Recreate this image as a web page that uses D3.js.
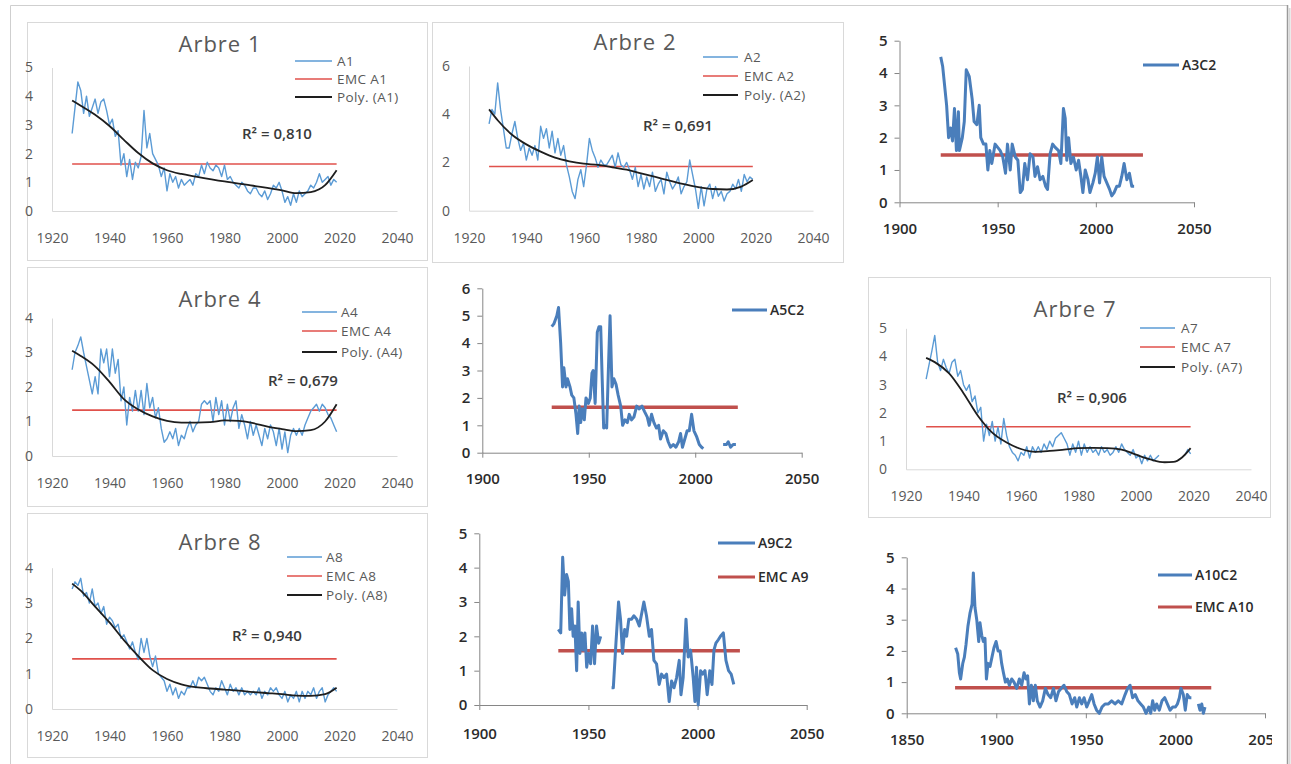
<!DOCTYPE html>
<html><head><meta charset="utf-8">
<script src="https://cdn.jsdelivr.net/npm/d3@7/dist/d3.min.js"></script>
<style>body{margin:0;background:#fff;} svg{display:block;}</style>
</head><body>
<svg id="c" width="1291" height="764"></svg>
<script>
// ---------------- DATA ----------------
const xTicksArbre = [1920, 1940, 1960, 1980, 2000, 2020, 2040];
const xTicksC2 = [1900, 1950, 2000, 2050];
const xTicksA10 = [1850, 1900, 1950, 2000, 2050];

// Arbre 1 (yearly from 1927)
const a1Start = 1927;
const a1Values = [2.7,3.6,4.5,4.2,3.4,4.0,3.3,3.6,3.9,3.4,3.8,3.9,3.5,3.0,3.2,2.6,2.8,1.6,2.0,1.2,1.8,1.1,1.7,1.5,1.9,3.5,2.2,2.7,2.0,1.8,1.6,1.2,1.5,0.7,1.3,1.0,1.2,0.8,1.1,0.9,1.0,1.1,0.9,1.3,1.2,1.6,1.3,1.7,1.5,1.4,1.6,1.5,1.2,1.6,1.1,1.2,1.0,0.9,0.8,1.0,0.9,0.7,0.6,0.8,0.8,0.6,0.5,0.7,0.4,0.6,0.9,0.8,1.0,0.7,0.3,0.5,0.2,0.6,0.3,0.7,0.5,0.6,0.7,0.9,0.8,1.0,1.3,1.0,1.1,1.2,0.9,1.1,1.0];
const a1TrendYears = [1927,1930,1935,1940,1945,1950,1955,1960,1965,1970,1980,1990,2000,2005,2010,2015,2019];
const a1Trend = [3.85,3.67,3.35,2.96,2.48,2.02,1.66,1.42,1.29,1.2,1.03,0.88,0.72,0.62,0.66,0.9,1.42];
const emcA1 = 1.64;

// Arbre 2
const a2Start = 1927;
const a2Values = [3.6,4.2,4.0,5.3,4.2,3.4,2.6,2.6,3.2,3.7,3.0,2.5,2.8,2.1,2.6,2.3,2.7,2.1,3.5,3.0,3.4,2.6,3.3,2.4,3.0,2.3,2.7,1.9,1.4,0.8,0.5,1.3,1.7,1.0,1.9,3.0,2.5,2.2,1.8,2.1,1.9,1.9,2.1,2.3,1.8,2.4,1.9,1.8,2.0,1.7,1.3,1.8,1.0,1.5,0.9,1.4,1.0,1.6,0.8,1.1,1.3,0.7,1.6,1.2,0.9,1.1,1.4,0.7,1.0,1.2,2.1,1.5,0.9,0.1,1.0,0.2,0.9,1.1,0.5,1.0,0.6,0.8,0.4,0.7,0.8,1.1,0.9,1.3,0.8,1.5,1.2,1.4,1.3];
const a2TrendYears = [1927,1930,1935,1940,1945,1950,1955,1960,1965,1970,1975,1980,1985,1990,1995,2000,2005,2010,2015,2019];
const a2Trend = [4.2,3.75,3.15,2.75,2.45,2.2,2.05,1.95,1.9,1.8,1.7,1.55,1.4,1.25,1.1,0.98,0.9,0.88,1.0,1.27];
const emcA2 = 1.83;

// A3C2
const a3Years = [1921,1922,1924,1925,1926,1927,1928,1929,1930,1930.5,1932,1933,1934,1935.5,1937,1938,1939.4,1940.6,1941.4,1942.8,1944,1945,1946,1947,1948.7,1950,1951.3,1952.6,1954,1955,1956.4,1957.4,1959,1960.3,1961.5,1962.6,1963.8,1965.2,1966.5,1968,1969,1970.3,1971.6,1973,1974.4,1975.4,1976.7,1978,1979.3,1981,1982.2,1983.5,1984.4,1985.2,1986.1,1987.3,1988.6,1990,1991.2,1992.4,1993.4,1994.6,1996,1997,1998.5,1999.7,2000.8,2001.9,2003,2004.2,2005.6,2007,2008.1,2009.3,2010.7,2012,2013.2,2014.4,2015.8,2017.1,2018.3,2019.5];
const a3Values = [4.5,4.2,3.0,2.0,2.3,1.9,2.9,1.6,2.8,1.6,2.0,2.5,4.1,3.9,3.2,2.5,2.4,3.0,2.0,1.8,1.8,1.0,1.6,1.2,1.8,1.7,1.6,1.4,0.9,1.8,1.0,1.8,1.4,1.3,0.3,0.4,1.2,0.7,1.5,1.4,0.8,1.1,0.7,0.8,0.5,0.4,1.5,1.8,1.7,1.6,1.2,2.9,2.6,1.3,2.0,1.2,1.4,1.0,1.3,0.8,0.3,1.0,0.7,0.3,0.6,0.9,1.4,0.6,1.4,0.8,0.6,0.4,0.2,0.3,0.5,0.5,0.8,1.2,0.7,0.9,0.5,0.5];
const emcA3 = 1.46;

// Arbre 4
const a4Start = 1927;
const a4Values = [2.5,3.0,3.2,3.45,3.0,2.6,2.2,1.8,2.3,1.8,3.1,2.7,3.1,2.3,3.1,2.4,2.8,1.6,2.0,0.9,1.7,1.3,1.9,1.3,1.9,1.2,2.1,1.4,1.7,1.1,1.4,0.8,0.4,0.5,0.7,0.5,0.8,0.3,0.6,0.5,0.8,1.0,0.7,0.9,1.0,1.5,1.6,1.5,1.6,1.0,1.7,1.2,1.6,0.9,1.5,1.0,1.4,1.6,0.8,1.2,0.9,0.5,1.0,0.6,0.9,0.6,0.3,0.8,0.5,0.9,0.7,0.3,0.8,0.2,0.7,0.1,0.6,0.8,0.6,0.8,0.6,0.9,1.1,1.3,1.4,1.5,1.3,1.5,1.4,1.2,1.1,0.9,0.7];
const a4TrendYears = [1927,1930,1935,1940,1945,1950,1955,1960,1965,1970,1975,1980,1985,1990,1995,2000,2005,2010,2015,2019];
const a4Trend = [3.05,2.9,2.6,2.15,1.65,1.35,1.15,1.02,0.97,0.97,0.98,1.03,1.02,0.95,0.85,0.78,0.72,0.75,1.0,1.5];
const emcA4 = 1.33;

// A5C2
const a5Years = [1932.6,1933.6,1935,1935.8,1936.8,1937.7,1938.3,1939.3,1940,1941.2,1942,1943,1944,1944.8,1945.5,1946.2,1947,1947.9,1948.7,1949.8,1950.7,1951.5,1952.1,1953,1954,1954.8,1955.6,1956.3,1957,1957.6,1958.4,1959.2,1960,1960.9,1961.8,1962.8,1963.8,1965,1965.9,1967,1968.1,1969,1970.1,1971.2,1972.5,1973.7,1975,1976.2,1977.5,1978.4,1979.5,1980.6,1981.8,1982.8,1983.7,1985,1986.2,1987.3,1988.4,1989.7,1990.9,1992.2,1993.1,1994,1995.1,1996.2,1997.2,1998.3,1999.4,2000.6,2001.9,2003,2003.8,2008,2013.1,2014.7,2015.5,2016.6,2017.8,2019.1];
const a5Values = [4.6,4.7,5.0,5.3,4.0,2.4,3.1,2.4,2.7,2.4,2.1,2.0,1.4,0.7,1.7,1.1,1.6,1.2,2.0,1.8,2.0,2.9,3.0,1.8,4.4,4.6,4.6,2.7,0.9,1.0,0.9,3.0,5.0,2.4,2.7,2.5,2.1,1.7,1.0,1.2,1.1,1.4,1.2,1.3,1.7,1.6,1.7,1.5,1.3,1.0,1.4,1.1,0.9,1.0,0.5,0.8,0.7,0.4,0.2,0.3,0.2,0.4,0.7,0.2,0.5,0.8,0.8,1.4,0.8,0.6,0.3,0.2,0.15,null,0.3,0.3,0.4,0.2,0.3,0.3];
const emcA5 = 1.66;

// Arbre 7
const a7Start = 1927;
const a7Values = [3.2,3.7,4.2,4.75,3.8,3.5,3.9,3.6,3.4,3.8,3.9,3.3,3.5,3.0,2.8,3.0,2.4,2.6,2.0,2.2,1.0,1.6,1.2,1.7,1.0,1.5,0.9,1.8,1.2,0.8,0.6,0.5,0.3,0.6,0.5,0.8,0.4,0.8,0.6,0.8,0.6,0.9,0.7,1.0,0.8,1.1,1.2,1.3,1.1,0.9,0.5,0.9,0.6,1.0,0.5,0.9,0.6,0.8,0.6,0.7,0.5,0.8,0.6,0.7,0.5,0.6,0.8,0.6,0.9,0.7,0.6,0.5,0.7,0.4,0.5,0.2,0.5,0.3,0.5,0.3,0.4,0.5,null,null,null,null,null,null,null,null,0.5,0.7,0.55];
const a7TrendYears = [1927,1930,1935,1940,1945,1950,1955,1960,1965,1970,1975,1980,1985,1990,1995,2000,2005,2010,2013,2016,2019];
const a7Trend = [3.95,3.8,3.4,2.7,1.9,1.3,0.95,0.72,0.62,0.65,0.7,0.75,0.76,0.75,0.7,0.52,0.35,0.25,0.26,0.42,0.75];
const emcA7 = 1.51;

// Arbre 8
const a8Start = 1927;
const a8Values = [3.4,3.6,3.5,3.7,3.2,3.3,3.0,3.4,2.9,3.0,2.7,2.9,2.4,2.6,2.5,2.3,2.4,2.0,2.1,1.9,1.7,1.9,1.6,1.4,2.0,1.6,2.0,1.5,1.2,1.5,1.0,0.9,0.8,0.5,0.7,0.4,0.6,0.3,0.5,0.4,0.6,0.6,0.8,0.6,0.9,0.8,0.9,0.7,0.5,0.4,0.6,0.5,0.8,0.6,0.4,0.7,0.5,0.6,0.4,0.6,0.4,0.5,0.4,0.5,0.4,0.6,0.3,0.5,0.4,0.6,0.5,0.6,0.4,0.3,0.5,0.2,0.4,0.3,0.5,0.2,0.5,0.3,0.5,0.4,0.6,0.3,0.5,0.6,0.2,0.4,0.5,0.6,0.5];
const a8TrendYears = [1927,1930,1935,1940,1945,1950,1955,1960,1965,1970,1975,1980,1985,1990,1995,2000,2005,2010,2015,2019];
const a8Trend = [3.55,3.35,2.9,2.45,1.95,1.5,1.1,0.85,0.7,0.62,0.58,0.55,0.52,0.48,0.45,0.42,0.38,0.37,0.42,0.6];
const emcA8 = 1.42;

// A9C2
const a9Years = [1936.2,1937.3,1938.2,1939.1,1940,1940.8,1941.5,1942.3,1943,1943.8,1944.6,1945.3,1946.1,1946.9,1947.6,1948.4,1949.2,1950.1,1951,1951.9,1952.8,1953.7,1954.7,1955.6,1958,1960.6,1961.4,1962.6,1963.8,1964.7,1965.6,1966.6,1967.5,1968.5,1969.8,1970.8,1972.1,1973.3,1974.5,1975.4,1976.6,1977.9,1978.9,1980,1981.2,1982.4,1983.5,1984.6,1985.8,1987,1988.1,1989.2,1990.4,1991.6,1992.4,1993.4,1994.7,1995.7,1996.8,1998,1998.8,1999.5,2000.3,2001.4,2002.3,2003.4,2004.4,2005.6,2006.6,2007.5,2008.4,2009.5,2010.5,2011.8,2013,2014.2,2015.4,2016.6];
const a9Values = [2.2,2.1,4.3,3.2,3.8,3.6,2.2,2.8,2.0,2.3,1.0,3.0,1.5,2.1,1.6,2.1,1.1,1.5,1.2,2.3,1.2,2.3,1.8,2.0,null,0.5,0.5,1.8,3.0,2.5,1.5,2.2,2.0,2.5,2.5,2.6,2.5,2.3,2.7,3.0,2.6,2.0,2.2,1.3,1.2,0.6,0.9,0.8,0.9,0.1,0.7,0.5,0.8,1.3,0.3,0.8,2.5,1.4,1.6,0.8,0.1,1.1,0.0,1.0,0.9,1.0,0.3,1.0,0.6,1.6,1.8,1.9,2.0,2.1,1.3,1.0,0.9,0.6];
const emcA9 = 1.58;

// A10C2
const a10Years = [1877.3,1878.5,1879.4,1880.1,1881.3,1882.2,1883.1,1884.2,1885.3,1886.5,1887.2,1888.1,1889.1,1890.2,1890.9,1891.9,1892.8,1893.7,1894.5,1895.4,1896.5,1897.6,1898.7,1899.9,1901,1902.1,1903,1904,1905.1,1906.2,1907.3,1908.6,1909.9,1911.4,1912.9,1914.2,1915.5,1916.6,1917.5,1918.5,1919.6,1920.7,1921.8,1922.9,1924.4,1925.9,1927.4,1928.9,1930.4,1931.9,1933.3,1934.8,1936.3,1937.8,1939.3,1940.8,1942.3,1943.8,1944.9,1946.4,1947.7,1949,1950.5,1951.9,1953.3,1954.6,1956,1957.5,1959,1960.7,1962.6,1964.4,1966.3,1968.1,1970,1971.9,1973.3,1974.7,1976.1,1977.6,1979.1,1980.6,1982.1,1983.6,1985.1,1986.2,1987.3,1988.4,1989.5,1991,1992.5,1994,1995.5,1997,1998.5,2000,2001.1,2002.2,2003.1,2004.4,2005.5,2006.6,2007.8,2008.9,2011,2012.8,2013.7,2014.7,2015.6,2016.5];
const a10Values = [2.1,1.9,1.3,1.1,1.6,1.8,2.2,2.8,3.2,3.5,4.5,3.4,3.0,2.3,2.9,2.5,2.3,2.4,1.1,1.6,1.5,1.8,2.1,2.3,2.0,2.0,1.6,1.3,1.0,1.1,0.9,1.1,1.0,0.8,1.1,0.9,1.3,1.1,1.2,0.3,0.9,0.4,0.9,0.4,0.2,0.4,0.8,0.6,0.5,0.8,0.4,0.7,0.8,0.9,0.7,0.6,0.3,0.5,0.2,0.5,0.3,0.5,0.2,0.4,0.6,0.3,0.1,0.0,0.2,0.3,0.3,0.4,0.3,0.4,0.3,0.6,0.8,0.9,0.5,0.6,0.4,0.3,0.2,0.0,0.2,0.0,0.4,0.1,0.3,0.1,0.4,0.5,0.3,0.1,0.2,0.2,0.3,0.5,0.8,0.6,0.1,0.6,0.5,0.5,null,0.3,0.1,0.3,0.0,0.2];
const emcA10 = 0.82;

// ---------------- LAYOUT / STYLE ----------------
const ARB = {blue:'#5b9bd5', red:'#e0514b', black:'#1e1e1e', axis:'#d9d9d9', text:'#595959', font:'"Open Sans", "Liberation Sans", sans-serif'};
const C2 = {blue:'#4a7ebb', red:'#c0504d', axis:'#868686', text:'#2b2b2b', font:'"Open Sans", "Liberation Sans", sans-serif'};

const yearly = (start, vals) => vals.map((v, i) => ({x: start + i, y: v}));
const pairs = (xs, vals) => xs.map((x, i) => ({x: x, y: vals[i]}));

const panels = [
  {style:'arbre', xd:[1920,2040], xr:[52,397], yd:[0,5], yr:[211,67.5], xt:xTicksArbre, yt:[0,1,2,3,4,5],
   title:'Arbre 1', tx:220, ty:52, data:yearly(a1Start,a1Values), trend:pairs(a1TrendYears,a1Trend),
   emc:{v:emcA1, x0:1927, x1:2019}, leg:{x0:295, x1:332, tx:337, rows:[61,79,97]}, labels:['A1','EMC A1','Poly. (A1)'],
   r2:{text:'R² = 0,810', x:242, y:139}},
  {style:'arbre', xd:[1920,2040], xr:[469,813], yd:[0,6], yr:[210.7,66], xt:xTicksArbre, yt:[0,2,4,6],
   title:'Arbre 2', tx:635, ty:50, data:yearly(a2Start,a2Values), trend:pairs(a2TrendYears,a2Trend),
   emc:{v:emcA2, x0:1927, x1:2019}, leg:{x0:703, x1:738, tx:744, rows:[57,76,95]}, labels:['A2','EMC A2','Poly. (A2)'],
   r2:{text:'R² = 0,691', x:643, y:131}},
  {style:'c2', xd:[1900,2050], xr:[899.5,1194], yd:[0,5], yr:[202.3,40.7], xt:xTicksC2, yt:[0,1,2,3,4,5], xPad:16,
   data:pairs(a3Years,a3Values), emc:{v:emcA3, x0:1921, x1:2024},
   leg:{x0:1143, x1:1179, tx:1182, rows:[65]}, labels:['A3C2']},
  {style:'arbre', xd:[1920,2040], xr:[52,397], yd:[0,4], yr:[456,318], xt:xTicksArbre, yt:[0,1,2,3,4],
   title:'Arbre 4', tx:220, ty:307, data:yearly(a4Start,a4Values), trend:pairs(a4TrendYears,a4Trend),
   emc:{v:emcA4, x0:1927, x1:2019}, leg:{x0:302, x1:337, tx:341, rows:[312,331,352]}, labels:['A4','EMC A4','Poly. (A4)'],
   r2:{text:'R² = 0,679', x:268, y:386}},
  {style:'c2', xd:[1900,2050], xr:[482.3,801.7], yd:[0,6], yr:[452.7,288.3], xt:xTicksC2, yt:[0,1,2,3,4,5,6], xPad:16,
   data:pairs(a5Years,a5Values), emc:{v:emcA5, x0:1932.6, x1:2020},
   leg:{x0:732, x1:767, tx:770, rows:[310]}, labels:['A5C2']},
  {style:'arbre', xd:[1920,2040], xr:[906,1251], yd:[0,5], yr:[469.3,328.3], xt:xTicksArbre, yt:[0,1,2,3,4,5],
   title:'Arbre 7', tx:1075, ty:317, data:yearly(a7Start,a7Values), trend:pairs(a7TrendYears,a7Trend),
   emc:{v:emcA7, x0:1927, x1:2019}, leg:{x0:1140, x1:1175, tx:1181, rows:[328,347,367]}, labels:['A7','EMC A7','Poly. (A7)'],
   r2:{text:'R² = 0,906', x:1057, y:403}},
  {style:'arbre', xd:[1920,2040], xr:[52,397], yd:[0,4], yr:[709,567.7], xt:xTicksArbre, yt:[0,1,2,3,4],
   title:'Arbre 8', tx:220, ty:550, data:yearly(a8Start,a8Values), trend:pairs(a8TrendYears,a8Trend),
   emc:{v:emcA8, x0:1927, x1:2019}, leg:{x0:287, x1:322, tx:326, rows:[557,576,595]}, labels:['A8','EMC A8','Poly. (A8)'],
   r2:{text:'R² = 0,940', x:232, y:641}},
  {style:'c2', xd:[1900,2050], xr:[479.3,806.7], yd:[0,5], yr:[705,533.3], xt:xTicksC2, yt:[0,1,2,3,4,5], xPad:18,
   data:pairs(a9Years,a9Values), emc:{v:emcA9, x0:1936.2, x1:2019.4},
   leg:{x0:718, x1:755, tx:758, rows:[543,577]}, labels:['A9C2','EMC A9']},
  {style:'c2', xd:[1850,2050], xr:[906.7,1265], yd:[0,5], yr:[713.3,557.3], xt:xTicksA10, yt:[0,1,2,3,4,5], xPad:16,
   data:pairs(a10Years,a10Values), emc:{v:emcA10, x0:1877, x1:2020},
   leg:{x0:1158, x1:1192, tx:1195, rows:[575,607]}, labels:['A10C2','EMC A10'], clip:1272}
];

const svg = d3.select('#c');
svg.append('rect').attr('width',1291).attr('height',764).attr('fill','#fff');

// outer frame and chart boxes
const frame = svg.append('g').attr('fill','none');
frame.append('path').attr('d','M10.5,764V5.5H1287').attr('stroke','#cfcfcf');
frame.append('path').attr('d','M1287.5,5V764').attr('stroke','#9a9a9a').attr('stroke-width',1.5);
frame.append('path').attr('d','M1289.5,8V764').attr('stroke','#d8d8d8').attr('stroke-width',2);
const boxes = [[27,22,427,260],[432,22,843,262],[27,267,427,506],[868,277,1270,517],[27,513,427,757]];
boxes.forEach(b => frame.append('rect').attr('x',b[0]+0.5).attr('y',b[1]+0.5).attr('width',b[2]-b[0]).attr('height',b[3]-b[1]).attr('stroke','#d9d9d9'));

const defs = svg.append('defs');

panels.forEach((p, idx) => {
  const S = p.style === 'arbre' ? ARB : C2;
  const arb = p.style === 'arbre';
  const x = d3.scaleLinear().domain(p.xd).range(p.xr);
  const y = d3.scaleLinear().domain(p.yd).range(p.yr);
  const g = svg.append('g');
  if (p.clip) {
    defs.append('clipPath').attr('id','clip'+idx).append('rect').attr('x',0).attr('y',0).attr('width',p.clip).attr('height',764);
    g.attr('clip-path','url(#clip'+idx+')');
  }
  const xa = d3.axisBottom(x).tickValues(p.xt).tickFormat(d3.format('d'));
  const ya = d3.axisLeft(y).tickValues(p.yt).tickFormat(d3.format('d'));
  if (arb) { xa.tickSize(0).tickPadding(22); ya.tickSize(0).tickPadding(19); }
  else { xa.tickSize(5).tickSizeOuter(0).tickPadding(p.xPad); ya.tickSize(5).tickSizeOuter(0).tickPadding(7); }
  const gx = g.append('g').attr('transform','translate(0,'+p.yr[0]+')').call(xa);
  const gy = g.append('g').attr('transform','translate('+p.xr[0]+',0)').call(ya);
  [gx, gy].forEach(a => {
    a.attr('font-family', S.font).attr('font-size', arb ? 14 : 15);
    a.select('.domain').attr('stroke', S.axis);
    a.selectAll('.tick line').attr('stroke', S.axis);
    a.selectAll('text').attr('fill', S.text).attr('font-weight', arb ? 400 : 600);
  });

  const line = d3.line().defined(d => d.y != null).x(d => x(d.x)).y(d => y(d.y));
  // EMC
  g.append('path').datum([{x:p.emc.x0, y:p.emc.v},{x:p.emc.x1, y:p.emc.v}])
    .attr('d', line).attr('fill','none').attr('stroke', S.red).attr('stroke-width', arb ? 1.6 : 3.5);
  // series
  g.append('path').datum(p.data).attr('d', line).attr('fill','none')
    .attr('stroke', S.blue).attr('stroke-width', arb ? 1.4 : 3).attr('stroke-linejoin','round');
  // trend
  if (p.trend) {
    g.append('path').datum(p.trend).attr('d', line.curve(d3.curveMonotoneX))
      .attr('fill','none').attr('stroke', ARB.black).attr('stroke-width', 1.8);
  }
  // title
  if (p.title) {
    g.append('text').attr('x', p.tx).attr('y', p.ty).attr('text-anchor','middle')
      .attr('font-family', ARB.font).attr('font-size', 22).attr('letter-spacing', 1)
      .attr('fill', '#595959').text(p.title);
  }
  // R²
  if (p.r2) {
    g.append('text').attr('x', p.r2.x).attr('y', p.r2.y).attr('font-family', ARB.font)
      .attr('font-size', 15).attr('font-weight', 600).attr('fill', '#3a3a3a').text(p.r2.text);
  }
  // legend
  const colors = arb ? [ARB.blue, ARB.red, ARB.black] : [C2.blue, C2.red];
  const widths = arb ? [1.4, 1.6, 1.8] : [3, 3];
  p.labels.forEach((lab, i) => {
    const ry = p.leg.rows[i];
    g.append('line').attr('x1', p.leg.x0).attr('x2', p.leg.x1).attr('y1', ry).attr('y2', ry)
      .attr('stroke', colors[i]).attr('stroke-width', widths[i]);
    g.append('text').attr('x', p.leg.tx).attr('y', ry).attr('dy','0.35em')
      .attr('font-family', S.font).attr('font-size', arb ? 13.5 : 14).attr('font-weight', arb ? 400 : 600)
      .attr('letter-spacing', arb ? 0.4 : 0)
      .attr('fill', arb ? '#595959' : '#2b2b2b').text(lab);
  });
});
</script>
</body></html>
